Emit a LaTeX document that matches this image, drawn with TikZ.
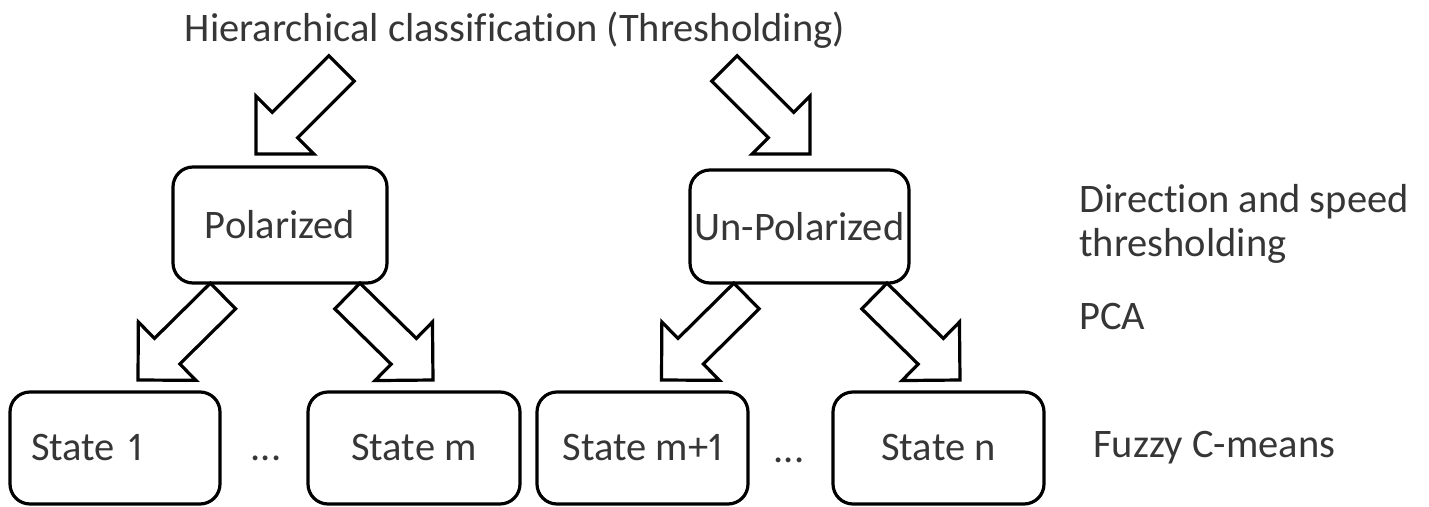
\documentclass[tikz,border=0pt]{standalone}
\usepackage{fontspec}
\setmainfont{Carlito}[Ligatures=NoCommon, Numbers=Proportional]
\usetikzlibrary{calc}

\definecolor{inkgray}{HTML}{363636}

\tikzset{
  box/.style={draw=black, line width=3.2pt, rounded corners=20pt,
    inner sep=0pt, text=inkgray},
  label/.style={text=inkgray, inner sep=0pt},
  blockarrow/.style={draw=black, line width=3.2pt, fill=white, line join=miter},
}

% hollow block arrow from tail centre #1 to tip #2
\newcommand\blockarrow[2]{%
  \coordinate (ahb) at ($(#2)!41pt!(#1)$);
  \draw[blockarrow] (#2)
    -- ($(ahb)!41pt!90:(#2)$) -- ($(ahb)!18pt!90:(#2)$)
    -- ($(#1)!18pt!90:(#2)$) -- ($(#1)!18pt!-90:(#2)$)
    -- ($(ahb)!18pt!-90:(#2)$) -- ($(ahb)!41pt!-90:(#2)$)
    -- cycle;
}

\begin{document}
\begin{tikzpicture}[x=1pt, y=-1pt, font=\fontsize{40.5}{45}\selectfont]
\useasboundingbox (0,0) rectangle (1429,506);

% title
\node[label, anchor=base] (title) at (515,41) {Hierarchical classification (Thresholding)};

% first level
\node[box, minimum width=214pt, minimum height=116pt] (pol) at (280,225) {Polarized};
\node[box, minimum width=219pt, minimum height=113pt] (unpol) at (799.5,226.5) {Un-Polarized};

% second level
\node[box, minimum width=210pt, minimum height=112pt, text width=168pt, align=left] (s1) at (115,448) {State 1};
\node[box, minimum width=212pt, minimum height=112pt] (sm) at (414,448) {State m};
\node[box, minimum width=211pt, minimum height=112pt] (sm1) at (642.5,448) {State m+1};
\node[box, minimum width=211pt, minimum height=112pt] (sn) at (938.5,448) {State n};

\node[label, anchor=base] (dotsa) at (266,460) {...};
\node[label, anchor=base] (dotsb) at (789,462) {...};

% step annotations
\node[label, anchor=base west] (dirlab) at (1079,212) {Direction and speed};
\node[label, anchor=base west] (thrlab) at (1079,256) {thresholding};
\node[label, anchor=base west] (pcalab) at (1079,329) {PCA};
\node[label, anchor=base west] (fcmlab) at (1093,457) {Fuzzy C-means};

% arrow end points
\coordinate (tA) at (341.6,68.4);  \coordinate (hA) at (256,154);
\coordinate (tB) at (724.4,68.4);  \coordinate (hB) at (810,154);
\coordinate (tC) at ($(pol.south)+(-57,11.4)$);   \coordinate (hC) at (138,380);
\coordinate (tD) at ($(pol.south)+(67.4,11.4)$);  \coordinate (hD) at (433,380);
\coordinate (tE) at ($(unpol.south)+(-53,11.4)$); \coordinate (hE) at (661.5,380);
\coordinate (tF) at ($(unpol.south)+(74.9,11.4)$);\coordinate (hF) at (960,380);

\blockarrow{tA}{hA}
\blockarrow{tB}{hB}
\blockarrow{tC}{hC}
\blockarrow{tD}{hD}
\blockarrow{tE}{hE}
\blockarrow{tF}{hF}
\end{tikzpicture}
\end{document}
